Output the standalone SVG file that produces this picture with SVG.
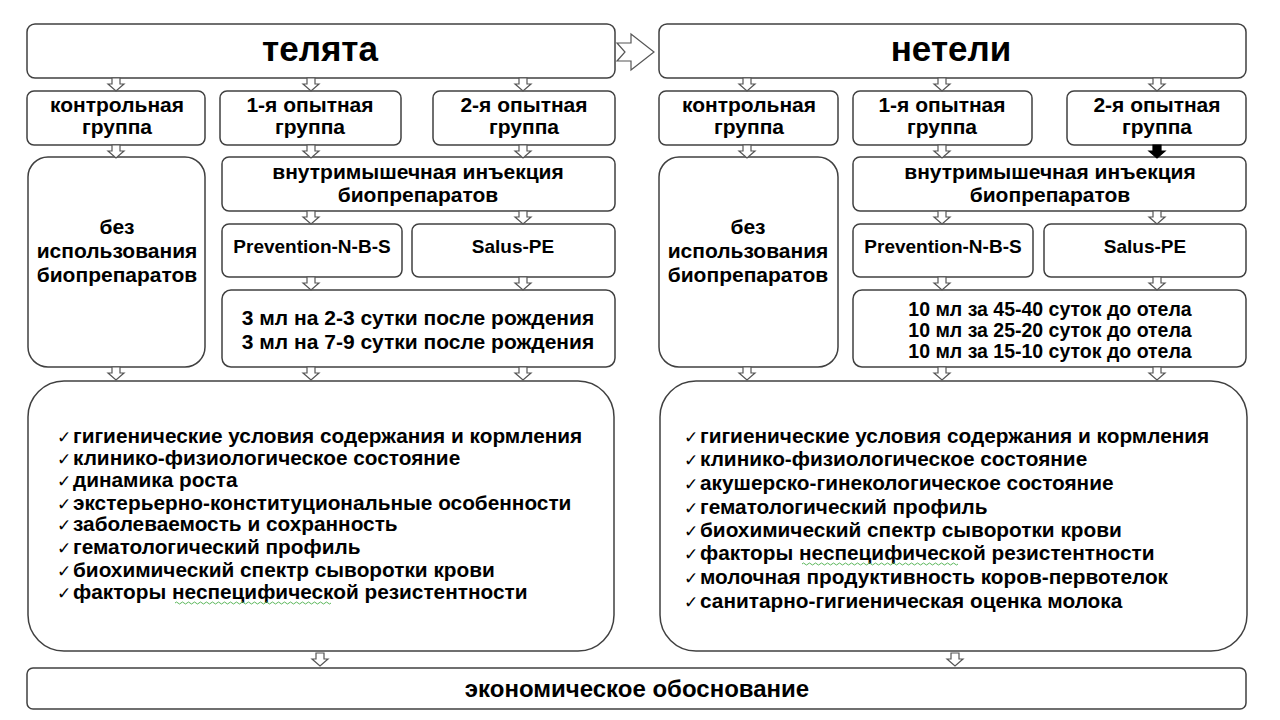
<svg xmlns="http://www.w3.org/2000/svg" xmlns:xlink="http://www.w3.org/1999/xlink" width="1280" height="720" viewBox="0 0 1280 720">
<defs>
<style>
.box{fill:#fff;stroke:#404040;stroke-width:1.5}
.t{font-family:"Liberation Sans",Arial,sans-serif;font-weight:bold;fill:#000;text-anchor:middle}
.h{font-size:35px}
.g{font-size:21px}
.m{font-size:21px}
.p{font-size:19px}
.d{font-size:19.5px}
.l{font-family:"Liberation Sans",Arial,sans-serif;font-weight:bold;fill:#000;font-size:20.8px}
.ck{font-family:"DejaVu Sans",sans-serif;font-size:17px;fill:#000}
.ha{fill:#fff;stroke:#555;stroke-width:1.2}
.fa{fill:#000;stroke:#000;stroke-width:1.2}
.sq{fill:none;stroke:#5cb85c;stroke-width:1}
</style>
<path id="da" d="M-4,0 H4 V6 H8 L0,13 L-8,6 H-4 Z"/>
<path id="sq" d="M0,0 q1.5,-2 3,0 t3,0 t3,0 t3,0 t3,0 t3,0 t3,0 t3,0 t3,0 t3,0 t3,0 t3,0 t3,0 t3,0 t3,0 t3,0 t3,0 t3,0 t3,0 t3,0 t3,0 t3,0 t3,0 t3,0 t3,0 t3,0 t3,0 t3,0 t3,0 t3,0 t3,0 t3,0 t3,0 t3,0 t3,0 t3,0 t3,0 t3,0 t3,0 t3,0 t3,0 t3,0 t3,0 t3,0 t3,0 t3,0 t3,0 t3,0 t3,0 t3,0 t3,0 t3,0"/>
</defs>
<rect width="1280" height="720" fill="#fff"/>

<g id="calves">
<rect class="box" x="27" y="24" width="588" height="54" rx="8"/>
<text class="t h" x="320" y="61">телята</text>
</g>
<g id="heifers">
<rect class="box" x="659" y="24" width="587" height="54" rx="8"/>
<text class="t h" x="951" y="61">нетели</text>
</g>

<g id="calves-control">
<rect class="box" x="27" y="91" width="178" height="54" rx="7"/>
<text class="t g" x="117" y="112">контрольная</text>
<text class="t g" x="117" y="134">группа</text>
</g>
<g id="calves-exp1">
<rect class="box" x="220" y="91" width="181" height="54" rx="7"/>
<text class="t g" x="310" y="112">1-я опытная</text>
<text class="t g" x="310" y="134">группа</text>
</g>
<g id="calves-exp2">
<rect class="box" x="433" y="91" width="182" height="54" rx="7"/>
<text class="t g" x="524" y="112">2-я опытная</text>
<text class="t g" x="524" y="134">группа</text>
</g>
<g id="heifers-control">
<rect class="box" x="659" y="91" width="179" height="54" rx="7"/>
<text class="t g" x="749" y="112">контрольная</text>
<text class="t g" x="749" y="134">группа</text>
</g>
<g id="heifers-exp1">
<rect class="box" x="853" y="91" width="179" height="54" rx="7"/>
<text class="t g" x="942" y="112">1-я опытная</text>
<text class="t g" x="942" y="134">группа</text>
</g>
<g id="heifers-exp2">
<rect class="box" x="1067" y="91" width="179" height="54" rx="7"/>
<text class="t g" x="1157" y="112">2-я опытная</text>
<text class="t g" x="1157" y="134">группа</text>
</g>

<g id="calves-none">
<rect class="box" x="28" y="157" width="177" height="210" rx="20"/>
<text class="t m" x="117" y="234">без</text>
<text class="t m" x="117" y="258">использования</text>
<text class="t m" x="117" y="282">биопрепаратов</text>
</g>
<g id="calves-injection">
<rect class="box" x="222" y="157" width="393" height="54" rx="7"/>
<text class="t m" x="418" y="179">внутримышечная инъекция</text>
<text class="t m" x="418" y="202">биопрепаратов</text>
</g>
<g id="calves-prevention">
<rect class="box" x="222" y="224" width="180" height="53" rx="7"/>
<text class="t p" x="312" y="253">Prevention-N-B-S</text>
</g>
<g id="calves-salus">
<rect class="box" x="412" y="224" width="203" height="53" rx="7"/>
<text class="t p" x="513" y="253">Salus-PE</text>
</g>
<g id="calves-dose">
<rect class="box" x="222" y="290" width="393" height="77" rx="9"/>
<text class="t m" x="418" y="325">3 мл на 2-3 сутки после рождения</text>
<text class="t m" x="418" y="349">3 мл на 7-9 сутки после рождения</text>
</g>

<g id="heifers-none">
<rect class="box" x="659" y="157" width="179" height="210" rx="20"/>
<text class="t m" x="748" y="234">без</text>
<text class="t m" x="748" y="258">использования</text>
<text class="t m" x="748" y="282">биопрепаратов</text>
</g>
<g id="heifers-injection">
<rect class="box" x="853" y="157" width="393" height="54" rx="7"/>
<text class="t m" x="1050" y="179">внутримышечная инъекция</text>
<text class="t m" x="1050" y="202">биопрепаратов</text>
</g>
<g id="heifers-prevention">
<rect class="box" x="853" y="224" width="180" height="53" rx="7"/>
<text class="t p" x="943" y="253">Prevention-N-B-S</text>
</g>
<g id="heifers-salus">
<rect class="box" x="1044" y="224" width="202" height="53" rx="7"/>
<text class="t p" x="1145" y="253">Salus-PE</text>
</g>
<g id="heifers-dose">
<rect class="box" x="853" y="290" width="393" height="77" rx="9"/>
<text class="t d" x="1050" y="316">10 мл за 45-40 суток до отела</text>
<text class="t d" x="1050" y="337">10 мл за 25-20 суток до отела</text>
<text class="t d" x="1050" y="358">10 мл за 15-10 суток до отела</text>
</g>

<g id="calves-indicators">
<rect class="box" x="28" y="381" width="586" height="270" rx="36"/>
<g class="ck">
<text x="57" y="443">✓</text><text x="57" y="465">✓</text><text x="57" y="487">✓</text><text x="57" y="510">✓</text>
<text x="57" y="531">✓</text><text x="57" y="554">✓</text><text x="57" y="577">✓</text><text x="57" y="599">✓</text>
</g>
<text class="l" x="73" y="443">гигиенические условия содержания и кормления</text>
<text class="l" x="73" y="465">клинико-физиологическое состояние</text>
<text class="l" x="73" y="487">динамика роста</text>
<text class="l" x="73" y="510">экстерьерно-конституциональные особенности</text>
<text class="l" x="73" y="531">заболеваемость и сохранность</text>
<text class="l" x="73" y="554">гематологический профиль</text>
<text class="l" x="73" y="577">биохимический спектр сыворотки крови</text>
<text class="l" x="73" y="599">факторы неспецифической резистентности</text>
<use class="sq" xlink:href="#sq" x="175" y="603"/>
</g>

<g id="heifers-indicators">
<rect class="box" x="660" y="381" width="587" height="270" rx="36"/>
<g class="ck">
<text x="684" y="443">✓</text><text x="684" y="466">✓</text><text x="684" y="490">✓</text><text x="684" y="514">✓</text>
<text x="684" y="537">✓</text><text x="684" y="560">✓</text><text x="684" y="584">✓</text><text x="684" y="608">✓</text>
</g>
<text class="l" x="700" y="443">гигиенические условия содержания и кормления</text>
<text class="l" x="700" y="466">клинико-физиологическое состояние</text>
<text class="l" x="700" y="490">акушерско-гинекологическое состояние</text>
<text class="l" x="700" y="514">гематологический профиль</text>
<text class="l" x="700" y="537">биохимический спектр сыворотки крови</text>
<text class="l" x="700" y="560">факторы неспецифической резистентности</text>
<text class="l" x="700" y="584">молочная продуктивность коров-первотелок</text>
<text class="l" x="700" y="608">санитарно-гигиеническая оценка молока</text>
<use class="sq" xlink:href="#sq" x="802" y="564"/>
</g>

<g id="economics">
<rect class="box" x="27" y="668" width="1219" height="41" rx="6"/>
<text class="t" style="font-size:24px" x="637" y="697">экономическое обоснование</text>
</g>

<g id="connectors">
<path class="ha" d="M617,43 H631 V34 L654,52 L631,70 V61 H617 L625,52 Z"/>
<g class="ha">
<use xlink:href="#da" x="116" y="78"/><use xlink:href="#da" x="311" y="78"/><use xlink:href="#da" x="523" y="78"/>
<use xlink:href="#da" x="116" y="145"/><use xlink:href="#da" x="311" y="145"/><use xlink:href="#da" x="523" y="145"/>
<use xlink:href="#da" x="311" y="211"/><use xlink:href="#da" x="523" y="211"/>
<use xlink:href="#da" x="311" y="277"/><use xlink:href="#da" x="523" y="277"/>
<use xlink:href="#da" x="116" y="367"/><use xlink:href="#da" x="311" y="367"/><use xlink:href="#da" x="523" y="367"/>
<use xlink:href="#da" x="747" y="78"/><use xlink:href="#da" x="942" y="78"/><use xlink:href="#da" x="1157" y="78"/>
<use xlink:href="#da" x="747" y="145"/><use xlink:href="#da" x="942" y="145"/>
<use xlink:href="#da" x="942" y="211"/><use xlink:href="#da" x="1157" y="211"/>
<use xlink:href="#da" x="942" y="277"/><use xlink:href="#da" x="1157" y="277"/>
<use xlink:href="#da" x="747" y="367"/><use xlink:href="#da" x="942" y="367"/><use xlink:href="#da" x="1157" y="367"/>
<use xlink:href="#da" x="320" y="653"/><use xlink:href="#da" x="955" y="653"/>
</g>
<use class="fa" xlink:href="#da" x="1157" y="145"/>
</g>
</svg>
